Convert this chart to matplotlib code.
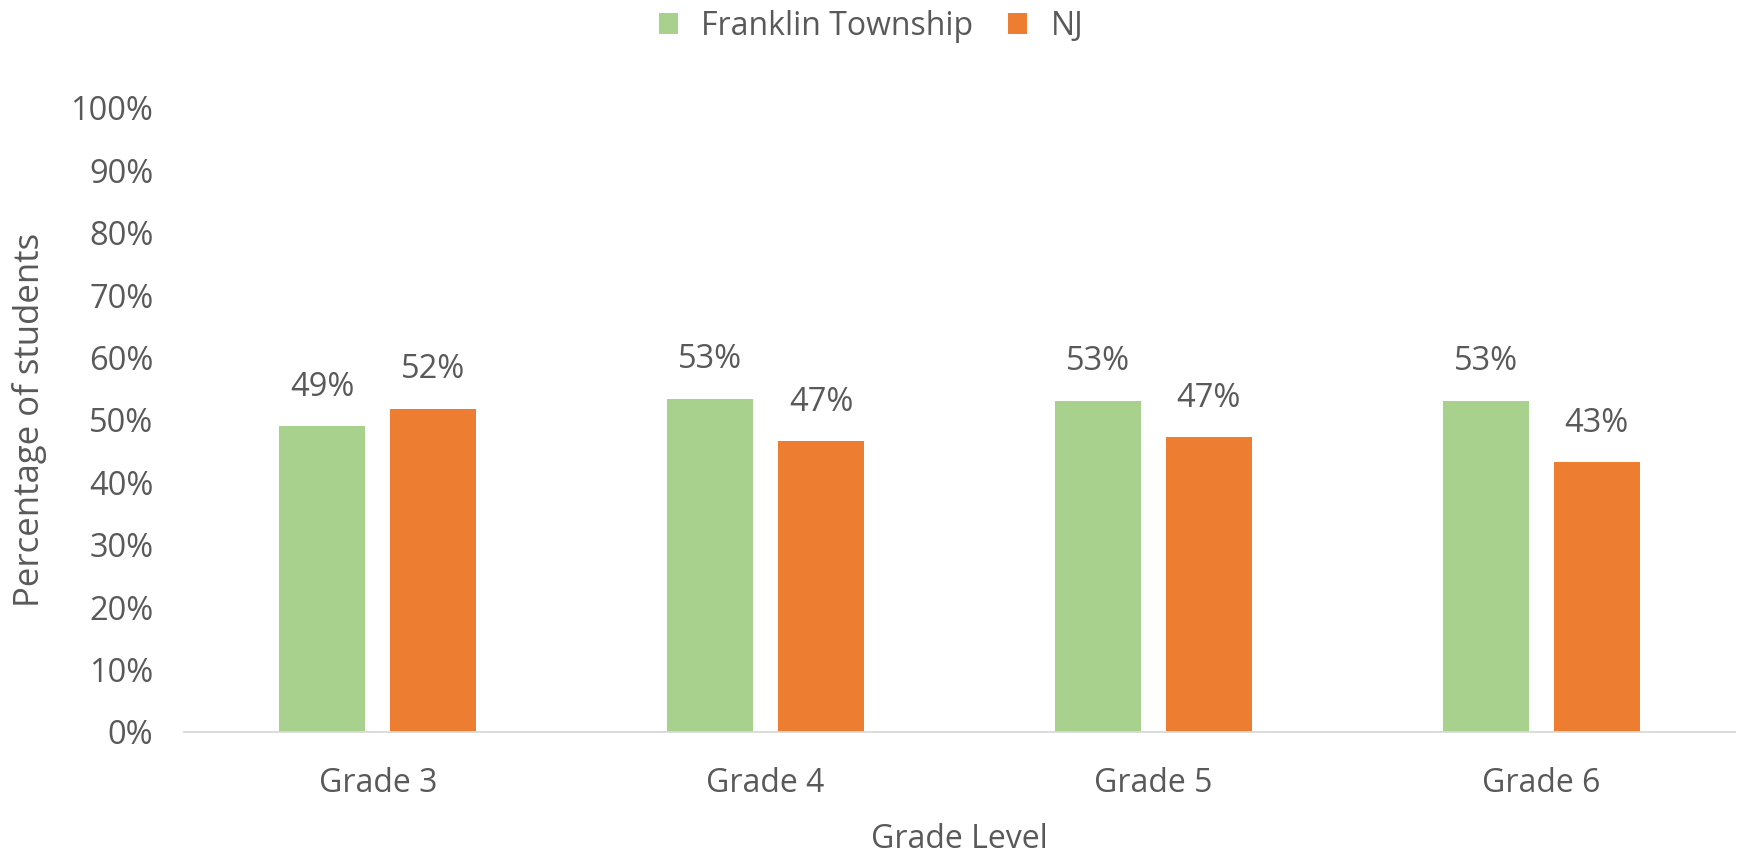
import matplotlib
matplotlib.use("Agg")
import matplotlib.pyplot as plt
import numpy as np

categories = ["Grade 3", "Grade 4", "Grade 5", "Grade 6"]
franklin = [0.49, 0.534, 0.531, 0.531]
nj = [0.518, 0.466, 0.472, 0.432]
franklin_labels = ["49%", "53%", "53%", "53%"]
nj_labels = ["52%", "47%", "47%", "43%"]
series_names = ["Franklin Township", "NJ"]

plt.rcParams['font.family'] = ['Open Sans', 'DejaVu Sans']
TXT = "#595959"
GREEN = "#A9D18E"
ORANGE = "#ED7D31"

fig = plt.figure(figsize=(17.42, 8.58), dpi=100)
ax = fig.add_axes([0.1056, 0.1469, 0.8904, 0.7273])

x = np.arange(len(categories))
w = 0.222
off = 0.143
b1 = ax.bar(x - off, franklin, w, color=GREEN, label=series_names[0])
b2 = ax.bar(x + off, nj, w, color=ORANGE, label=series_names[1])

for bars, labs in ((b1, franklin_labels), (b2, nj_labels)):
    for b, t in zip(bars, labs):
        ax.annotate(t, (b.get_x() + b.get_width() / 2, b.get_height()),
                    xytext=(0, 28), textcoords="offset points",
                    ha="center", va="center", fontsize=23.5, color=TXT)

ax.set_xlim(-0.5, len(categories) - 0.5)
ax.set_ylim(0, 1.0)
ax.set_yticks(np.arange(0, 1.01, 0.1))
ax.set_yticklabels([f"{int(round(v*100))}%" for v in np.arange(0, 1.01, 0.1)])
ax.set_xticks(x)
ax.set_xticklabels(categories)
ax.tick_params(axis="y", length=0, pad=22, labelsize=23.5, labelcolor=TXT)
ax.tick_params(axis="x", length=0, pad=25, labelsize=23, labelcolor=TXT)
for s in ("top", "right", "left"):
    ax.spines[s].set_visible(False)
ax.spines["bottom"].set_color("#D9D9D9")
ax.spines["bottom"].set_linewidth(1.3)

ax.set_xlabel("Grade Level", fontsize=23, color=TXT, labelpad=17)
ax.set_ylabel("Percentage of students", fontsize=25, color=TXT)
ax.yaxis.set_label_coords(-0.088, 0.5)

leg = fig.legend(loc="upper center", bbox_to_anchor=(0.5, 1.022), ncol=2,
                 frameon=False, fontsize=23, handlelength=0.6, handleheight=0.6,
                 handletextpad=0.72, columnspacing=1.1)
for t in leg.get_texts():
    t.set_color(TXT)

fig.savefig("out.png", dpi=100, facecolor="white")
